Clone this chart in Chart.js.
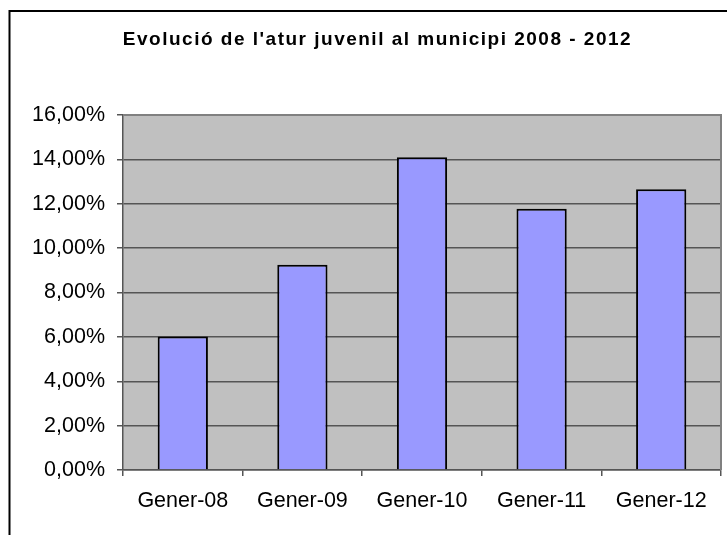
<!DOCTYPE html>
<html>
<head>
<meta charset="utf-8">
<script src="https://cdn.jsdelivr.net/npm/chart.js@4/dist/chart.umd.min.js"></script>
<style>
  html, body { margin: 0; padding: 0; background: #fff; }
  #wrap { width: 727px; height: 535px; position: relative; }
</style>
</head>
<body>
<div id="wrap"><canvas id="c" width="727" height="535"></canvas></div>
<script>
const titleText = "Evolució de l'atur juvenil al municipi 2008 - 2012";
const categories = ["Gener-08", "Gener-09", "Gener-10", "Gener-11", "Gener-12"];
const values = [6.02, 9.25, 14.1, 11.77, 12.65];
const yMin = 0, yMax = 16, yStep = 2;

const FONT = "'Liberation Sans', Arial, sans-serif";

const framePlugin = {
  id: 'frame',
  beforeDraw(chart) {
    const ctx = chart.ctx, a = chart.chartArea;
    ctx.save();
    ctx.fillStyle = '#fff';
    ctx.fillRect(0, 0, chart.width, chart.height);
    ctx.strokeStyle = '#000';
    ctx.lineWidth = 2;
    ctx.strokeRect(9.5, 11, chart.width + 20, chart.height + 20);
    ctx.fillStyle = '#C0C0C0';
    ctx.fillRect(a.left, a.top, a.right - a.left, a.bottom - a.top);
    ctx.restore();
  },
  afterDatasetsDraw(chart) {
    const ctx = chart.ctx, a = chart.chartArea;
    ctx.save();
    ctx.strokeStyle = '#808080';
    ctx.lineWidth = 2;
    ctx.beginPath();
    ctx.moveTo(a.left, a.top);
    ctx.lineTo(a.right, a.top);
    ctx.lineTo(a.right, a.bottom);
    ctx.stroke();
    ctx.restore();
  },
  afterDraw(chart) {
    const tb = chart.titleBlock;
    if (!tb) return;
    const ctx = chart.ctx;
    ctx.save();
    ctx.font = "bold 19px " + FONT;
    ctx.fillStyle = '#000';
    ctx.textAlign = 'center';
    ctx.textBaseline = 'middle';
    if ('letterSpacing' in ctx) ctx.letterSpacing = '1.5px';
    const cx = (tb.left + tb.right) / 2 + 8;
    const cy = tb.top + tb.options.padding.top + 7.5;
    ctx.fillText(titleText, cx, cy);
    ctx.restore();
  }
};

new Chart(document.getElementById('c'), {
  type: 'bar',
  data: {
    labels: categories,
    datasets: [{
      data: values,
      backgroundColor: '#9999FF',
      borderColor: '#000',
      borderWidth: 2,
      barPercentage: 0.42,
      categoryPercentage: 1.0
    }]
  },
  options: {
    responsive: false,
    animation: false,
    layout: { padding: { left: 18, right: 6, top: 0, bottom: 0 } },
    plugins: {
      legend: { display: false },
      tooltip: { enabled: false },
      title: {
        display: true,
        text: titleText,
        color: 'rgba(0,0,0,0)',
        font: { family: FONT, size: 17, weight: 'bold', lineHeight: 1.0 },
        padding: { top: 32, bottom: 66 }
      }
    },
    scales: {
      x: {
        offset: true,
        grid: { offset: true, drawOnChartArea: false, drawTicks: true, tickLength: 6, color: '#555', lineWidth: 1.5 },
        border: { color: '#555', width: 1.5 },
        ticks: { color: '#000', font: { family: FONT, size: 21.5 }, padding: 12, maxRotation: 0 },
        afterFit(s) { s.height = 65; }
      },
      y: {
        min: yMin, max: yMax,
        grid: { color: '#555', lineWidth: 1.5, drawTicks: true, tickLength: 6 },
        border: { color: '#555', width: 1.5 },
        ticks: {
          stepSize: yStep,
          color: '#000',
          font: { family: FONT, size: 21.5 },
          padding: 12,
          callback: v => v.toFixed(2).replace('.', ',') + '%'
        },
        afterFit(s) { s.width = 105; }
      }
    }
  },
  plugins: [framePlugin]
});
</script>
</body>
</html>
